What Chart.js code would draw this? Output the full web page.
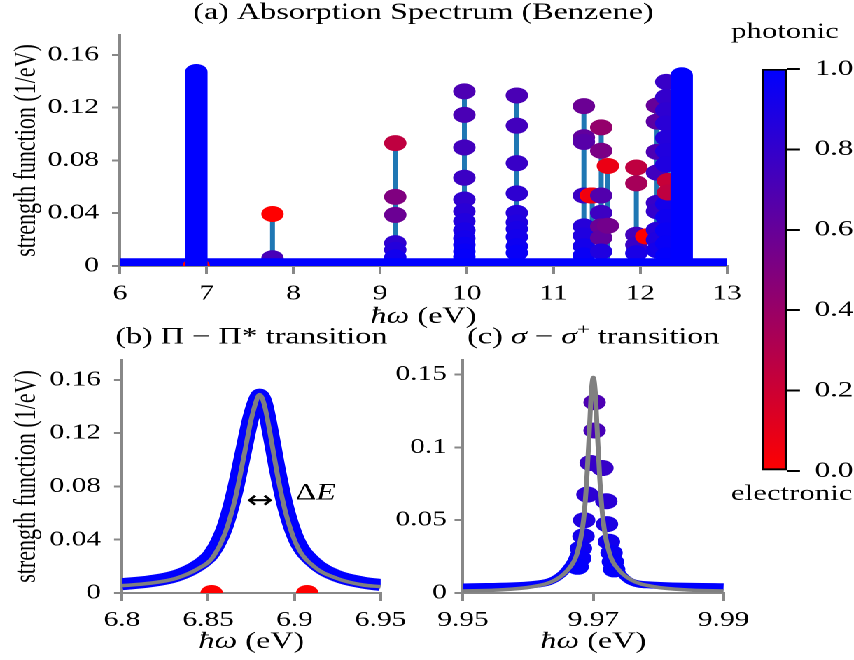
<!DOCTYPE html>
<html>
<head>
<meta charset="utf-8">
<title>Absorption Spectrum (Benzene)</title>
<script src="https://cdn.jsdelivr.net/npm/chart.js@4.4.1/dist/chart.umd.min.js"></script>
<style>
  html, body { margin: 0; padding: 0; background: #ffffff; overflow: hidden; }
  /* the figure is laid out on a narrow sheet and widened as a whole */
  #figure { position: absolute; left: 0; top: 0; width: 610px; height: 660px;
            transform: scaleX(1.4); transform-origin: 0 0; }
  #figure canvas { position: absolute; }
</style>
</head>
<body>
<div id="figure">
  <canvas id="panelA" width="542" height="335" style="left:0px;top:0px"></canvas>
  <canvas id="panelB" width="297" height="340" style="left:0px;top:320px"></canvas>
  <canvas id="panelC" width="282" height="340" style="left:260px;top:320px"></canvas>
  <canvas id="colorbar" width="95" height="540" style="left:515px;top:0px"></canvas>
</div>
<script>
// ---------------- tick values and labels ----------------
const xTicksA = [6, 7, 8, 9, 10, 11, 12, 13];
const xLabelsA = ['6', '7', '8', '9', '10', '11', '12', '13'];
const yTicksStrength = [0, 0.04, 0.08, 0.12, 0.16];
const yLabelsStrength = ['0', '0.04', '0.08', '0.12', '0.16'];
const xTicksB = [6.8, 6.85, 6.9, 6.95];
const xLabelsB = ['6.8', '6.85', '6.9', '6.95'];
const xTicksC = [9.95, 9.97, 9.99];
const xLabelsC = ['9.95', '9.97', '9.99'];
const yTicksC = [0, 0.05, 0.1, 0.15];
const yLabelsC = ['0', '0.05', '0.1', '0.15'];
const colorbarTicks = [0, 0.2, 0.4, 0.6, 0.8, 1.0];
const colorbarLabels = ['0.0', '0.2', '0.4', '0.6', '0.8', '1.0'];

// ---------------- (a) full spectrum ----------------
const stemEnergy = [7.759, 9.175, 9.972, 10.577, 11.35, 11.446, 11.55, 11.627, 11.955, 12.193, 12.32];
const stemTop    = [0.0394, 0.0931, 0.1323, 0.1292, 0.1211, 0.0534, 0.105, 0.0758, 0.0746, 0.1216, 0.1395];

const stateEnergy = [
  7.759, 7.759,
  9.175, 9.175, 9.175, 9.175, 9.175, 9.175,
  9.972, 9.972, 9.972, 9.972, 9.972, 9.972, 9.972, 9.972, 9.972, 9.972, 9.972, 9.972,
  10.577, 10.577, 10.577, 10.577, 10.577, 10.577, 10.577, 10.577, 10.577, 10.577,
  11.35, 11.35, 11.35, 11.35, 11.35, 11.35, 11.35, 11.35,
  11.43, 11.45,
  11.55, 11.55, 11.55, 11.55, 11.55, 11.55, 11.55,
  11.627, 11.627,
  11.955, 11.955, 11.955, 11.955, 11.955,
  12.07,
  12.193, 12.193, 12.193, 12.193, 12.193, 12.193, 12.193, 12.193, 12.193,
  12.30, 12.30, 12.30, 12.30, 12.30, 12.30, 12.30, 12.30, 12.30, 12.30, 12.30, 12.30, 12.32, 12.32
];
const stateStrength = [
  0.0394, 0.0059,
  0.0931, 0.0524, 0.0387, 0.0173, 0.0122, 0.0065,
  0.1323, 0.1145, 0.0898, 0.0669, 0.0504, 0.0415, 0.0340, 0.0270, 0.0210, 0.0160, 0.0110, 0.0070,
  0.1292, 0.1063, 0.0779, 0.0550, 0.0402, 0.0330, 0.0280, 0.0220, 0.0150, 0.0100,
  0.1211, 0.0975, 0.0940, 0.0534, 0.0300, 0.0230, 0.0150, 0.0080,
  0.0534, 0.0534,
  0.1050, 0.0873, 0.0534, 0.0402, 0.0300, 0.0214, 0.0110,
  0.0758, 0.0305,
  0.0746, 0.0626, 0.0237, 0.0160, 0.0097,
  0.0224,
  0.1216, 0.1094, 0.0865, 0.0708, 0.0478, 0.0415, 0.0275, 0.0198, 0.0120,
  0.1395, 0.1280, 0.1180, 0.1080, 0.0970, 0.0870, 0.0770, 0.0470, 0.0370, 0.0270, 0.0170, 0.0080, 0.0644, 0.0557
];
const statePhotonic = [
  0.00, 0.72,
  0.25, 0.50, 0.58, 0.82, 0.86, 0.93,
  0.70, 0.71, 0.74, 0.77, 0.81, 0.84, 0.87, 0.90, 0.92, 0.95, 0.97, 0.98,
  0.71, 0.74, 0.78, 0.82, 0.86, 0.88, 0.90, 0.92, 0.95, 0.97,
  0.58, 0.62, 0.66, 0.77, 0.85, 0.88, 0.92, 0.96,
  0.00, 0.06,
  0.42, 0.52, 0.68, 0.76, 0.58, 0.62, 0.88,
  0.08, 0.55,
  0.25, 0.35, 0.74, 0.78, 0.90,
  0.00,
  0.60, 0.64, 0.70, 0.75, 0.78, 0.80, 0.85, 0.88, 0.92,
  0.78, 0.80, 0.82, 0.84, 0.86, 0.87, 0.88, 0.92, 0.94, 0.96, 0.97, 0.99, 0.22, 0.25
];

// dense photon-like bands that pile up into solid columns
const columnEnergy = [6.881, 12.478];
const columnTop    = [0.147, 0.1445];
const baselineEnergy   = [6, 13];
const baselineStrength = [0.0025, 0.0025];

// dark (purely electronic) states at zero strength
const darkStateEnergy   = [6.852, 6.9074];
const darkStateStrength = [0, 0];

// ---------------- (b) Pi - Pi* peak ----------------
const scanEnergyB   = [6.800, 6.816, 6.8313, 6.8446, 6.8522, 6.8598, 6.8655, 6.8703, 6.875, 6.8789,
                       6.8798, 6.8827, 6.8865, 6.8903, 6.895, 6.9017, 6.9113, 6.9246, 6.9398, 6.950];
const bandBStrength = [0.0066, 0.0087, 0.0128, 0.0211, 0.030, 0.050, 0.0765, 0.1054, 0.133, 0.1477,
                       0.149, 0.142, 0.118, 0.0915, 0.064, 0.0387, 0.0229, 0.0128, 0.0078, 0.006];
const fitBStrength  = [0.0055, 0.0073, 0.011, 0.0186, 0.026, 0.045, 0.070, 0.100, 0.1306, 0.1477,
                       0.149, 0.1406, 0.1155, 0.0878, 0.060, 0.035, 0.0199, 0.011, 0.006, 0.0048];
const widthArrowFrom = 6.874;
const widthArrowTo   = 6.886;
const widthArrowLevel = 0.0697;
const widthLabelAt = [6.9006, 0.0702];

// ---------------- (c) sigma - sigma+ peak ----------------
const sigmaEnergy   = [9.9702, 9.9702, 9.9696, 9.9714, 9.9691, 9.9720, 9.9686, 9.9721,
                       9.9685, 9.9724, 9.9681, 9.9728, 9.9680, 9.9730, 9.9676, 9.9732];
const sigmaStrength = [0.131, 0.1116, 0.0893, 0.0858, 0.0676, 0.063, 0.050, 0.0473,
                       0.039, 0.0352, 0.0306, 0.0276, 0.0238, 0.0215, 0.018, 0.0162];
const sigmaPhotonic = [0.70, 0.72, 0.78, 0.79, 0.83, 0.84, 0.88, 0.89,
                       0.92, 0.93, 0.95, 0.96, 0.97, 0.98, 0.99, 0.99];
const bandCEnergy   = [9.95, 9.9607, 9.9632, 9.9647, 9.9657, 9.9667, 9.9675, 9.97,
                       9.9728, 9.9733, 9.9743, 9.9758, 9.9788, 9.99];
const bandCStrength = [0.0041, 0.0058, 0.0077, 0.0112, 0.0153, 0.0215, 0.0295, null,
                       0.0276, 0.0226, 0.0135, 0.0077, 0.0055, 0.0043];
const fitCEnergy    = [9.95, 9.955, 9.9607, 9.9642, 9.9662, 9.9675, 9.9685, 9.969, 9.9694, 9.9697, 9.97,
                       9.9703, 9.9706, 9.971, 9.9715, 9.9725, 9.9738, 9.9758, 9.9793, 9.985, 9.99];
const fitCStrength  = [0.0014, 0.002, 0.0043, 0.009, 0.0165, 0.027, 0.05, 0.078, 0.112, 0.138, 0.148,
                       0.138, 0.112, 0.078, 0.05, 0.027, 0.0165, 0.009, 0.0043, 0.002, 0.0014];

// ---------------- helpers ----------------
const SERIF = '"Liberation Serif", "DejaVu Serif", serif';
const TEXT_SIZE = 23;
const TICK_SIZE = 21;
const SPINE = '#888888';

// electronic (0) -> red, photonic (1) -> blue
function photonicColor(p) {
  return 'rgb(' + Math.round(255 * (1 - p)) + ',0,' + Math.round(255 * p) + ')';
}
function pts(xs, ys) { return xs.map((x, i) => ({ x: x, y: ys[i] })); }
function segments(xs, tops, base) {
  return xs.flatMap((x, i) => [{ x: x, y: base }, { x: x, y: tops[i] }, { x: x, y: null }]);
}

function fontOf(style, size) {
  const s = style === 's' ? Math.round(size * 0.7) : size;
  return (style === 'i' ? 'italic ' : '') + s + 'px ' + SERIF;
}
// text made of pieces: '' upright, 'i' italic, 's' superscript
function drawRich(ctx, parts, x, y, align, size) {
  const fs = size || TEXT_SIZE;
  const widths = parts.map(([t, st]) => { ctx.font = fontOf(st, fs); return ctx.measureText(t).width; });
  const total = widths.reduce((a, b) => a + b, 0);
  let cx = align === 'center' ? x - total / 2 : (align === 'right' ? x - total : x);
  ctx.textAlign = 'left';
  ctx.textBaseline = 'alphabetic';
  ctx.fillStyle = '#000';
  parts.forEach(([t, st], i) => {
    ctx.font = fontOf(st, fs);
    ctx.fillText(t, cx, st === 's' ? y - fs * 0.4 : y);
    cx += widths[i];
  });
}
function drawRotated(ctx, parts, x, y, size) {
  ctx.save();
  ctx.translate(x, y);
  ctx.rotate(-Math.PI / 2);
  drawRich(ctx, parts, 0, 0, 'center', size);
  ctx.restore();
}

function linearAxis(o) {
  return {
    type: 'linear', min: o.min, max: o.max,
    afterBuildTicks: s => { s.ticks = o.ticks.map(v => ({ value: v })); },
    afterFit: s => { if (o.isX) { s.height = o.size; } else { s.width = o.size; } },
    ticks: { autoSkip: false, maxRotation: 0, minRotation: 0, padding: o.padding, color: '#000',
             font: { family: SERIF, size: TICK_SIZE }, callback: (v, i) => o.labels[i] },
    grid: { drawOnChartArea: false, drawTicks: true, tickLength: o.tickLength, color: SPINE, lineWidth: 2 },
    border: { display: true, color: SPINE, width: 2 }
  };
}
function baseOptions(padding, scales) {
  return {
    responsive: false, animation: false, devicePixelRatio: 2, events: [],
    layout: { padding: padding },
    plugins: { legend: { display: false }, tooltip: { enabled: false }, colors: { enabled: false } },
    scales: scales
  };
}
function textPlugin(id, draw) {
  return { id: id, afterDraw(chart) { chart.ctx.save(); draw(chart, chart.ctx); chart.ctx.restore(); } };
}
const lineStyle = { showLine: true, pointRadius: 0, pointHoverRadius: 0, pointHitRadius: 0 };
const xLabel = [['ħω', 'i'], [' (eV)', '']];
const yLabel = [['strength function (1/eV)', '']];

// ---------------- (a) ----------------
new Chart(document.getElementById('panelA'), {
  type: 'scatter',
  data: { datasets: [
    Object.assign({ data: segments(stemEnergy, stemTop, 0), borderColor: '#1f77b4', borderWidth: 3.5, order: 6 }, lineStyle),
    { data: pts(stateEnergy, stateStrength), pointRadius: 8, pointHoverRadius: 8, pointBorderWidth: 0,
      pointBackgroundColor: statePhotonic.map(photonicColor), order: 5 },
    Object.assign({ data: pts(baselineEnergy, baselineStrength), borderColor: '#0000ff', borderWidth: 9, order: 4 }, lineStyle),
    { data: pts(darkStateEnergy, darkStateStrength), pointRadius: 8, pointHoverRadius: 8, pointBorderWidth: 0,
      pointBackgroundColor: photonicColor(0), order: 3 },
    Object.assign({ data: segments(columnEnergy, columnTop, 0), borderColor: '#0000ff', borderWidth: 16,
      borderCapStyle: 'round', order: 2 }, lineStyle)
  ]},
  options: baseOptions({ left: 0, top: 35, right: 22.71, bottom: 0 }, {
    x: linearAxis({ min: 6, max: 13, ticks: xTicksA, labels: xLabelsA, size: 69, isX: true, padding: 7.5, tickLength: 8 }),
    y: linearAxis({ min: 0, max: 0.175, ticks: yTicksStrength, labels: yLabelsStrength, size: 85.71, isX: false, padding: 9.3, tickLength: 5.7 })
  }),
  plugins: [textPlugin('textA', (chart, ctx) => {
    const a = chart.chartArea, cx = (a.left + a.right) / 2, cy = (a.top + a.bottom) / 2;
    drawRich(ctx, [['(a) Absorption Spectrum (Benzene)', '']], cx, 19, 'center');
    drawRich(ctx, xLabel, cx, 323, 'center');
    drawRotated(ctx, yLabel, 25, cy, 22);
  })]
});

// ---------------- (b) ----------------
new Chart(document.getElementById('panelB'), {
  type: 'scatter',
  data: { datasets: [
    Object.assign({ data: pts(scanEnergyB, bandBStrength), borderColor: '#0000ff', borderWidth: 12,
      cubicInterpolationMode: 'monotone', borderJoinStyle: 'round', order: 3 }, lineStyle),
    { data: pts(darkStateEnergy, darkStateStrength), pointRadius: 8, pointHoverRadius: 8, pointBorderWidth: 0,
      pointBackgroundColor: photonicColor(0), order: 2 },
    Object.assign({ data: pts(scanEnergyB, fitBStrength), borderColor: '#808080', borderWidth: 3.5,
      cubicInterpolationMode: 'monotone', borderJoinStyle: 'round', order: 1 }, lineStyle)
  ]},
  options: baseOptions({ left: 0, top: 40, right: 22, bottom: 0 }, {
    x: linearAxis({ min: 6.8, max: 6.95, ticks: xTicksB, labels: xLabelsB, size: 67, isX: true, padding: 6.7, tickLength: 8 }),
    y: linearAxis({ min: 0, max: 0.175, ticks: yTicksStrength, labels: yLabelsStrength, size: 87.14, isX: false, padding: 9.3, tickLength: 5.7 })
  }),
  plugins: [textPlugin('textB', (chart, ctx) => {
    const a = chart.chartArea, cx = (a.left + a.right) / 2, cy = (a.top + a.bottom) / 2;
    const xs = chart.scales.x, ys = chart.scales.y;
    drawRich(ctx, [['(b) Π − Π* transition', '']], cx, 23.5, 'center');
    drawRich(ctx, xLabel, cx, 328, 'center');
    drawRotated(ctx, yLabel, 25, cy, 22);
    // linewidth marker
    const x1 = xs.getPixelForValue(widthArrowFrom), x2 = xs.getPixelForValue(widthArrowTo);
    const y = ys.getPixelForValue(widthArrowLevel), h = 4, v = 4.5;
    ctx.strokeStyle = '#000';
    ctx.lineWidth = 2.2;
    ctx.lineJoin = 'miter';
    ctx.beginPath();
    ctx.moveTo(x1, y); ctx.lineTo(x2, y);
    ctx.moveTo(x1 + h, y - v); ctx.lineTo(x1, y); ctx.lineTo(x1 + h, y + v);
    ctx.moveTo(x2 - h, y - v); ctx.lineTo(x2, y); ctx.lineTo(x2 - h, y + v);
    ctx.stroke();
    drawRich(ctx, [['Δ', ''], ['E', 'i']], xs.getPixelForValue(widthLabelAt[0]), ys.getPixelForValue(widthLabelAt[1]), 'left');
  })]
});

// ---------------- (c) ----------------
new Chart(document.getElementById('panelC'), {
  type: 'scatter',
  data: { datasets: [
    Object.assign({ data: pts(bandCEnergy, bandCStrength), borderColor: '#0000ff', borderWidth: 7,
      cubicInterpolationMode: 'monotone', borderJoinStyle: 'round', order: 3 }, lineStyle),
    { data: pts(sigmaEnergy, sigmaStrength), pointRadius: 8, pointHoverRadius: 8, pointBorderWidth: 0,
      pointBackgroundColor: sigmaPhotonic.map(photonicColor), order: 2 },
    Object.assign({ data: pts(fitCEnergy, fitCStrength), borderColor: '#808080', borderWidth: 3.5,
      cubicInterpolationMode: 'monotone', borderJoinStyle: 'round', order: 1 }, lineStyle)
  ]},
  options: baseOptions({ left: 0, top: 40, right: 22.71, bottom: 0 }, {
    x: linearAxis({ min: 9.95, max: 9.99, ticks: xTicksC, labels: xLabelsC, size: 67, isX: true, padding: 6.7, tickLength: 8 }),
    y: linearAxis({ min: 0, max: 0.16, ticks: yTicksC, labels: yLabelsC, size: 70.71, isX: false, padding: 5.4, tickLength: 6 })
  }),
  plugins: [textPlugin('textC', (chart, ctx) => {
    const a = chart.chartArea, cx = (a.left + a.right) / 2;
    drawRich(ctx, [['(c) ', ''], ['σ', 'i'], [' − ', ''], ['σ', 'i'], ['+', 's'], [' transition', '']], cx, 23.5, 'center');
    drawRich(ctx, xLabel, cx, 328, 'center');
  })]
});

// ---------------- colour bar ----------------
function colorbarGradient(chart) {
  const ys = chart.scales.y;
  if (!ys || !chart.chartArea) { return photonicColor(0.5); }
  const g = chart.ctx.createLinearGradient(0, ys.getPixelForValue(0), 0, ys.getPixelForValue(1));
  colorbarTicks.forEach(v => g.addColorStop(v, photonicColor(v)));
  return g;
}
new Chart(document.getElementById('colorbar'), {
  type: 'bar',
  data: { labels: [''], datasets: [{
    data: [[colorbarTicks[0], colorbarTicks[colorbarTicks.length - 1]]],
    backgroundColor: c => colorbarGradient(c.chart),
    borderColor: '#000', borderWidth: 2, borderSkipped: false,
    barPercentage: 1, categoryPercentage: 1
  }]},
  options: baseOptions({ left: 29.29, right: 0, top: 69, bottom: 69 }, {
    x: { display: false },
    y: {
      position: 'right', min: 0, max: 1,
      afterBuildTicks: s => { s.ticks = colorbarTicks.map(v => ({ value: v })); },
      afterFit: s => { s.width = 47.86; },
      ticks: { padding: 10.5, color: '#000', font: { family: SERIF, size: 22 }, callback: (v, i) => colorbarLabels[i] },
      grid: { drawOnChartArea: false, drawTicks: true, tickLength: 9.3, color: '#000', lineWidth: 2 },
      border: { display: false }
    }
  }),
  plugins: [textPlugin('textBar', (chart, ctx) => {
    drawRich(ctx, [['photonic', '']], 45.7, 38, 'center', 22);
    drawRich(ctx, [['electronic', '']], 50.5, 500, 'center', 22);
  })]
});
</script>
</body>
</html>
